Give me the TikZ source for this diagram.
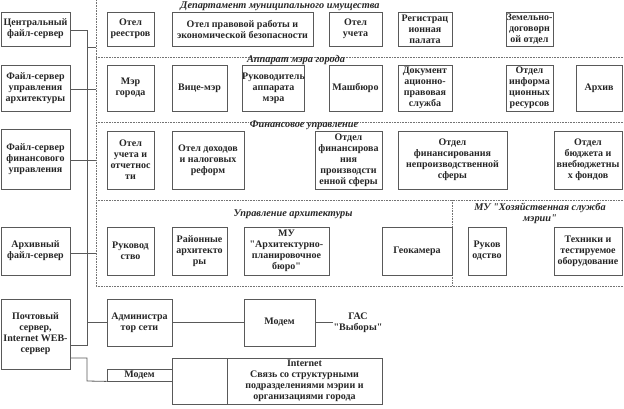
\documentclass[tikz,border=0pt]{standalone}
\usepackage{fontspec}
\setmainfont{Liberation Serif}[Ligatures=TeXOff]
\newcommand{\bxfont}{\fontsize{10}{11}\selectfont\bfseries}
\newcommand{\frfont}{\fontsize{10.3}{11}\selectfont\bfseries\itshape}
\newcommand{\qq}{\symbol{34}}
\newcommand{\bx}[6]{\node[box, minimum width={#4-#2}, minimum height={#5-#3}] (#1) at ({(#2+#4)/2},{(#3+#5)/2}) {#6};}
\tikzset{
  box/.style={draw=black!65, line width=0.8pt, inner sep=0pt, align=center, font=\bxfont, text=black!85},
  conn/.style={draw=black!65, line width=0.8pt},
  frame/.style={draw=black!55, line width=0.6pt, dash pattern=on 0.8pt off 0.8pt},
  flabel/.style={font=\frfont, inner sep=0pt, align=center, text=black!85},
  plain/.style={font=\bxfont, inner sep=0pt, align=center, text=black!85}
}
\begin{document}
\begin{tikzpicture}[x=1pt,y=-1pt]
\useasboundingbox (0,0) rectangle (624,409);
% frames
\draw[frame] (96,0) -- (96,286);
\draw[frame] (96,57) -- (624,57);
\draw[frame] (96,122) -- (624,122);
\draw[frame] (96,200) -- (624,200);
\draw[frame] (96,286) -- (624,286);
\draw[frame] (452,200) -- (452,286);
\coordinate (f1) at (96,47);
\coordinate (f2) at (96,89);
\coordinate (f3) at (96,160);
\coordinate (f4) at (96,253);
\coordinate (b1) at (87,30);
\coordinate (bp) at (87,345);
\coordinate (bq) at (87,358);
\coordinate (br) at (87,381);
% frame labels
\node[flabel] (l1) at (280,6) {Департамент муниципального имущества};
\node[flabel] (l2) at (296,60.5) {Аппарат мэра города};
\node[flabel] (l3) at (304,125.5) {Финансовое управление};
\node[flabel] (l4) at (293,214) {Управление архитектуры};
\node[flabel] (l5) at (540,213) {МУ \qq Хозяйственная служба\\мэрии\qq};
% left column
\bx{cfs}{1}{12}{70}{46}{Центральный\\файл-сервер}
\bx{afs}{1}{65}{70}{111}{Файл-сервер\\управления\\архитектуры}
\bx{ffs}{1}{129}{70}{189}{Файл-сервер\\финансового\\управления}
\bx{arfs}{1}{227}{70}{275}{Архивный\\файл-сервер}
\bx{pfs}{1}{299}{70}{369}{Почтовый\\сервер,\\Internet WEB-\\сервер}
% row 1
\bx{reestr}{107}{12}{154}{46}{Отел\\реестров}
\bx{prav}{172}{12}{313}{46}{Отел правовой работы и\\экономической безопасности}
\bx{ucheta}{329}{12}{382}{46}{Отел\\учета}
\bx{reg}{398}{12}{452}{46}{Регистрац\\ионная\\палата}
\bx{zem}{506}{12}{553}{46}{Земельно-\\договорн\\ой отдел}
% row 2
\bx{mer}{107}{65}{154}{111}{Мэр\\города}
\bx{vice}{172}{65}{227}{111}{Вице-мэр}
\bx{ruk}{244}{65}{303}{111}{Руководитель\\аппарата\\мэра}
\bx{mash}{329}{65}{382}{111}{Машбюро}
\bx{doc}{398}{65}{452}{111}{Документ\\ационно-\\правовая\\служба}
\bx{info}{506}{65}{553}{111}{Отдел\\информа\\ционных\\ресурсов}
\bx{arch}{576}{65}{622}{111}{Архив}
% row 3
\bx{uchot}{107}{131}{154}{189}{Отел\\учета и\\отчетнос\\ти}
\bx{doh}{172}{131}{244}{189}{Отел доходов\\и налоговых\\реформ}
\bx{fin}{315}{131}{382}{189}{Отдел\\финансирова\\ния\\производсти\\енной сферы}
\bx{nepr}{398}{131}{507}{189}{Отдел\\финансирования\\непроизводственной\\сферы}
\bx{budg}{554}{131}{622}{189}{Отдел\\бюджета и\\внебюджетны\\х фондов}
% row 4
\bx{ruk2}{107}{227}{154}{275}{Руковод\\ство}
\bx{rayon}{172}{227}{227}{275}{Районные\\архитекто\\ры}
\bx{mu}{244}{227}{329}{275}{МУ\\\qq Архитектурно-\\планировочное\\бюро\qq}
\bx{geo}{382}{227}{452}{275}{Геокамера}
\bx{ruk3}{468}{227}{506}{275}{Руков\\одство}
\bx{tech}{554}{227}{622}{275}{Техники и\\тестируемое\\оборудование}
% bottom
\bx{adm}{107}{299}{172}{346}{Администра\\тор сети}
\bx{modema}{244}{299}{315}{346}{Модем}
\node[plain] (gas) at (358,323) {ГАС\\\qq Выборы\qq};
\bx{modemb}{107}{369}{172}{381}{Модем}
\bx{inet}{227}{358}{382}{404}{Internet\\Связь со структурными\\подразделениями мэрии и\\организациями города}
\bx{blank}{172}{358}{227}{404}{}
% connectors
\draw[conn] (cfs.east |- b1) -- (b1) -- (bp) -- (pfs.east |- bp);
\draw[conn] (b1 |- f1) -- (f1);
\draw[conn] (afs.east |- f2) -- (f2);
\draw[conn] (ffs.east |- f3) -- (f3);
\draw[conn] (arfs.east |- f4) -- (f4);
\draw[conn] (b1 |- adm.west) -- (adm.west);
\draw[conn] (adm.east) -- (modema.west);
\draw[conn] (modema.east) -- (gas.west |- modema.east);
\draw[conn] (pfs.east |- bq) -- (bq) -- (br) -- (modemb.south west);
\end{tikzpicture}
\end{document}
